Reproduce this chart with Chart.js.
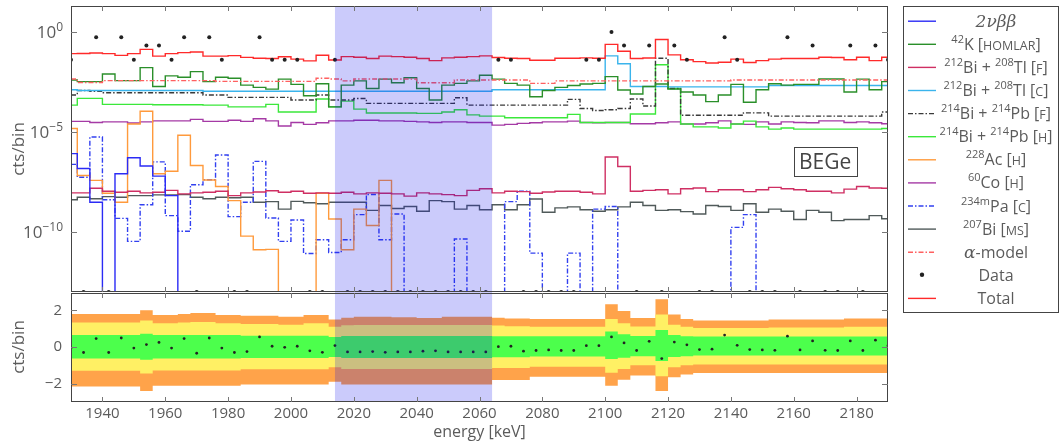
<!DOCTYPE html>
<html>
<head>
<meta charset="utf-8">
<script src="https://cdn.jsdelivr.net/npm/chart.js@4.4.1/dist/chart.umd.min.js"></script>
<style>
  html, body { margin: 0; padding: 0; background: #fff; }
</style>
</head>
<body>
<canvas id="fit" width="1061" height="444"></canvas>
<script>
// bin centres [keV]
const energy = [1930,1934,1938,1942,1946,1950,1954,1958,1962,1966,1970,
  1974,1978,1982,1986,1990,1994,1998,2002,2006,2010,2014,
  2018,2022,2026,2030,2034,2038,2042,2046,2050,2054,2058,
  2062,2066,2070,2074,2078,2082,2086,2090,2094,2098,2102,
  2106,2110,2114,2118,2122,2126,2130,2134,2138,2142,2146,
  2150,2154,2158,2162,2166,2170,2174,2178,2182,2186,2190];

const xTickValues = [1940,1960,1980,2000,2020,2040,2060,2080,2100,2120,2140,2160,2180];
const logTickValues = [1e-10, 1e-5, 1];
const logTickExps = ['−10', '−5', '0'];
const residTickValues = [-2, 0, 2];
const yMin = 1e-13, yMax = 20;
const roiStart = 2014, roiEnd = 2064;

// cts/bin per component (0 = empty bin)
const total = [0.083,0.084,0.09,0.083,0.068,0.083,0.135,0.062,0.083,0.093,0.10,
  0.062,0.062,0.066,0.054,0.049,0.047,0.058,0.044,0.036,0.069,0.04,
  0.059,0.055,0.047,0.062,0.059,0.055,0.047,0.037,0.051,0.055,0.059,
  0.064,0.053,0.049,0.047,0.039,0.039,0.049,0.049,0.051,0.049,0.24,
  0.11,0.047,0.05,0.42,0.072,0.041,0.033,0.028,0.031,0.044,0.030,
  0.037,0.044,0.047,0.047,0.047,0.055,0.053,0.041,0.055,0.037,0.055];

const k42 = [0.004,0.0033,0.0033,0.008,0.0037,0.0037,0.0166,0.0019,0.0064,0.0055,0.0105,
  0.0033,0.0055,0.0049,0.0022,0.0017,0.0014,0.0044,0.0024,0.00065,0.0026,0.00018,
  0.0022,0.0036,0.0015,0.0044,0.0029,0.0052,0.0015,0.0004,0.0022,0.0027,0.0036,
  0.0069,0.0044,0.0027,0.0022,0.00058,0.0012,0.0017,0.0021,0.0025,0.0027,0.0059,
  0.00126,0.00079,0.0019,0.0025,0.0014,0.001,0.00071,0.00033,0.00071,0.0024,0.00031,
  0.0013,0.0026,0.0022,0.0024,0.0024,0.0045,0.0045,0.001,0.0044,0.0013,0.0033];

const tlF = [9.1e-9,9.1e-9,1.55e-8,1.1e-8,9.8e-9,1.1e-8,9.1e-9,9.8e-9,1.2e-8,8.1e-9,9.1e-9,
  9.8e-9,1.1e-8,6.6e-9,9.1e-9,1.0e-8,1.15e-8,9.8e-9,1.1e-8,8.7e-9,9.1e-9,8.7e-9,
  9.8e-9,8.1e-9,9.1e-9,8.7e-9,8.1e-9,6.2e-9,9.1e-9,8.1e-9,7.4e-9,6.6e-9,1.2e-8,
  1.45e-8,9.1e-9,1.1e-8,1.05e-8,8.7e-9,1.0e-8,1.1e-8,1.1e-8,9.8e-9,8.1e-9,5.6e-7,
  1.9e-7,1.1e-8,1.2e-8,1.3e-8,8.1e-9,1.45e-8,1.6e-8,1.05e-8,1.3e-8,1.3e-8,1.05e-8,
  1.3e-8,1.7e-8,1.45e-8,1.3e-8,1.1e-8,1.1e-8,9.1e-9,1.4e-8,1.9e-8,1.6e-8,1.55e-8];

const tlC = [0.0013,0.0012,0.0012,0.0012,0.0012,0.0012,0.0012,0.0012,0.0012,0.0012,0.0012,
  0.0011,0.0011,0.0011,0.0011,0.0011,0.0011,0.0011,0.0011,0.0011,0.0011,0.0011,
  0.0011,0.0011,0.0011,0.0011,0.0011,0.0011,0.0011,0.0011,0.0011,0.0011,0.0011,
  0.0011,0.0013,0.0013,0.0013,0.0013,0.0013,0.0013,0.0013,0.0013,0.0013,0.064,
  0.026,0.0019,0.0019,0.0019,0.0018,0.0018,0.0018,0.0018,0.0018,0.0018,0.0018,
  0.0018,0.0021,0.0021,0.0021,0.0021,0.0021,0.0021,0.0021,0.0021,0.0021,0.0021];

const biF = [7.1e-4,0.0012,0.0011,9.2e-4,9.2e-4,9.2e-4,9.2e-4,9.2e-4,9.2e-4,9.2e-4,9.2e-4,
  7.1e-4,7.1e-4,5.4e-4,5.4e-4,5.4e-4,5.4e-4,5.4e-4,4e-4,4e-4,7.1e-4,4e-4,
  4e-4,4.7e-4,2.7e-4,2.7e-4,2.7e-4,2.7e-4,2.7e-4,2.7e-4,2.7e-4,5.2e-4,2.2e-4,
  2.2e-4,2.2e-4,2.2e-4,2.2e-4,2.2e-4,2.2e-4,2.2e-4,4.3e-4,1.5e-4,1.2e-4,1.3e-4,
  1.5e-4,4.5e-4,2e-4,0.049,0.0015,6.9e-5,6.9e-5,6.9e-5,6.9e-5,6.9e-5,9.1e-5,
  9.1e-5,6.2e-5,6.2e-5,6.2e-5,6.2e-5,6.2e-5,6.2e-5,6.2e-5,6.2e-5,6.2e-5,1e-4];

const biH = [2.2e-4,4.8e-4,4.8e-4,2.4e-4,2.4e-4,2.4e-4,2.4e-4,2.3e-4,2.3e-4,2.3e-4,2.3e-4,
  2.2e-4,2.2e-4,1.8e-4,1.8e-4,1.8e-4,2.4e-4,1.0e-4,1.0e-4,1.0e-4,4.5e-4,1.8e-4,
  3.5e-4,1.4e-4,9e-5,9e-5,9e-5,9e-5,8.5e-5,8.5e-5,1.0e-4,1.3e-4,7.2e-5,
  6.2e-5,6.2e-5,5.2e-5,5.2e-5,5.2e-5,5.2e-5,5.2e-5,7.6e-5,3.0e-5,3.0e-5,3.0e-5,
  3.0e-5,8e-5,8e-5,0.023,0.0015,2.5e-5,1.8e-5,1.8e-5,1.6e-5,2.5e-5,3.5e-5,
  1.8e-5,1.4e-5,1.6e-5,1.4e-5,1.4e-5,1.4e-5,1.4e-5,1.4e-5,1.4e-5,1.4e-5,1.5e-5];

const co60 = [3.4e-5,3.4e-5,3.0e-5,3.2e-5,3.2e-5,2.8e-5,3.2e-5,3.6e-5,3.6e-5,3.6e-5,4.3e-5,
  3.4e-5,3.4e-5,3.9e-5,3.4e-5,4.6e-5,3.6e-5,2.0e-5,3.0e-5,2.4e-5,2.9e-5,3.6e-5,
  3.6e-5,3.9e-5,3.9e-5,3.6e-5,3.6e-5,3.4e-5,3.2e-5,3.0e-5,3.2e-5,3.2e-5,3.0e-5,
  3.0e-5,2.2e-5,2.4e-5,2.7e-5,2.9e-5,3.2e-5,3.2e-5,3.5e-5,3.0e-5,2.9e-5,3.0e-5,
  3.0e-5,2.6e-5,2.6e-5,2.9e-5,3.2e-5,2.5e-5,2.5e-5,2.9e-5,3.6e-5,2.5e-5,2.4e-5,
  3.2e-5,2.5e-5,3.2e-5,3.0e-5,2.9e-5,3.6e-5,3.6e-5,3.0e-5,3.2e-5,2.9e-5,2.6e-5];

const bi207 = [4.1e-9,5.5e-9,4.6e-9,5.9e-9,5.5e-9,6.6e-9,6.6e-9,7.2e-9,7.2e-9,7.4e-9,5.5e-9,
  4.6e-9,5.5e-9,5.2e-9,5.5e-9,3.1e-9,3.3e-9,1.4e-9,3.4e-9,2.9e-9,2.6e-9,3.1e-9,
  3.1e-9,3.1e-9,1.2e-9,2.1e-9,1.5e-9,1.9e-9,1.1e-9,3.7e-9,3.3e-9,1.4e-9,2.1e-9,
  1.3e-9,2.3e-9,1.3e-9,2.3e-9,4.5e-9,9.8e-10,1.6e-9,1.8e-9,1.3e-9,1.1e-9,1.3e-9,
  1.8e-9,3.1e-9,2.1e-9,1.2e-9,1.3e-9,1.05e-9,7.9e-10,2.1e-9,1.9e-9,1.2e-9,2.6e-9,
  9.8e-10,1.4e-9,1.1e-9,4.2e-10,1.2e-9,9.8e-10,3.7e-10,4.2e-10,4.2e-10,6.6e-10,4.6e-10];

const bb2nu = [8.3e-7,1.5e-7,3.1e-9,0,8.2e-8,5.2e-7,2.0e-7,6.2e-8,6.6e-9,0,0,
  0,0,0,0,0,0,0,0,0,0,0,
  0,0,0,0,0,0,0,0,0,0,0,
  0,0,0,0,0,0,0,0,0,0,0,
  0,0,0,0,0,0,0,0,0,0,0,
  0,0,0,0,0,0,0,0,0,0,0];

const ac228 = [1.5e-5,6.7e-8,3.8e-8,8.7e-9,3.1e-9,2.5e-5,1.1e-4,8.2e-8,1.1e-7,6.9e-6,2.1e-7,
  4.0e-8,1.9e-8,3.7e-9,6.2e-11,1.3e-11,1.35e-11,0,0,0,8.7e-9,4.5e-10,
  1.3e-11,1.4e-9,2.1e-10,3.8e-8,0,0,0,0,0,0,0,
  0,0,0,0,0,0,0,0,0,0,0,
  0,0,0,0,0,0,0,0,0,0,0,
  0,0,0,0,0,0,0,0,0,0,0];

const pa234 = [2.4e-7,5.5e-8,5.6e-6,4.1e-9,4.8e-10,3.4e-11,2.3e-9,3.2e-7,6.6e-10,1.1e-10,2.3e-8,
  4.1e-8,7.1e-7,5.9e-10,3.1e-9,3.4e-7,5.0e-10,3.4e-11,4.0e-10,8.4e-12,4.1e-11,9.4e-12,
  4.1e-11,7.4e-10,7.5e-9,4.1e-11,8.0e-10,0,0,0,0,4.5e-11,0,
  0,0,3.3e-9,1.1e-8,8.8e-12,0,0,8.8e-12,0,1.4e-9,1.9e-9,
  0,0,0,0,0,0,0,0,0,1.7e-10,7.4e-10,
  0,0,0,0,0,0,0,0,0,0,0];

const alpha = [0.0045,0.003,0.003,0.0037,0.0037,0.0037,0.0037,0.0037,0.0037,0.0037,0.0037,
  0.0037,0.0034,0.0034,0.0034,0.0034,0.0034,0.0034,0.0034,0.0034,0.0049,0.0045,
  0.0036,0.0045,0.0045,0.0045,0.0045,0.0045,0.0029,0.0029,0.0029,0.004,0.004,
  0.004,0.004,0.004,0.004,0.0027,0.0027,0.0036,0.0036,0.0036,0.0036,0.0036,
  0.0036,0.0036,0.0036,0.0036,0.0036,0.0036,0.0036,0.0036,0.0036,0.004,0.004,
  0.004,0.004,0.004,0.004,0.004,0.004,0.004,0.004,0.004,0.004,0.004];

const counts = [0.041,0,0.55,0,0.55,0.041,0.21,0.21,0.041,0.55,0,
  0.55,0.041,0,0,0.55,0.041,0.041,0.041,0,0,0.041,
  0,0,0,0,0,0,0,0,0,0,0,
  0,0.041,0.041,0,0,0,0,0,0.041,0.041,1.0,
  0.21,0,0.21,0,0.21,0.041,0,0,0.55,0.041,0,
  0,0,0.55,0,0.21,0,0,0.21,0,0.21,0.041];

// lower panel
const residual = [-0.06,-0.30,0.46,-0.30,0.49,-0.06,0.13,0.25,-0.06,0.46,-0.34,
  0.49,-0.06,-0.30,-0.25,0.55,0.04,-0.02,0.04,-0.21,-0.29,0.08,
  -0.27,-0.27,-0.25,-0.29,-0.27,-0.27,-0.23,-0.21,-0.27,-0.27,-0.27,
  -0.27,0.02,0.04,-0.23,-0.19,-0.16,-0.19,-0.19,0.07,0.07,0.55,
  0.22,-0.19,0.31,-0.63,0.27,0.12,-0.14,-0.12,0.65,0.09,-0.14,
  -0.16,-0.18,0.59,-0.16,0.33,-0.18,-0.19,0.33,-0.19,0.37,0.07];

const band3Hi = [1.8,1.8,1.8,1.8,1.8,1.8,2.0,1.75,1.75,1.8,1.85,
  1.85,1.75,1.75,1.7,1.7,1.7,1.65,1.65,1.75,1.75,1.5,
  1.6,1.65,1.65,1.65,1.62,1.62,1.58,1.58,1.65,1.65,1.65,
  1.65,1.6,1.55,1.55,1.53,1.53,1.53,1.53,1.53,1.53,2.33,
  1.96,1.58,1.58,2.61,1.77,1.53,1.45,1.45,1.45,1.45,1.45,
  1.45,1.5,1.5,1.5,1.5,1.5,1.5,1.55,1.55,1.55,1.55];
const band2Hi = [1.33,1.33,1.33,1.33,1.33,1.33,1.45,1.3,1.3,1.33,1.36,
  1.36,1.3,1.3,1.26,1.26,1.26,1.22,1.22,1.3,1.3,1.1,
  1.18,1.2,1.2,1.2,1.2,1.2,1.2,1.2,1.2,1.2,1.2,
  1.2,1.17,1.13,1.13,1.1,1.1,1.1,1.1,1.1,1.1,1.53,
  1.3,1.12,1.12,1.77,1.22,1.1,1.04,1.04,1.04,1.04,1.04,
  1.04,1.07,1.07,1.07,1.07,1.07,1.07,1.1,1.1,1.1,1.1];
const band1Hi = [0.65,0.65,0.65,0.65,0.65,0.65,0.72,0.65,0.65,0.65,0.65,
  0.65,0.65,0.65,0.62,0.62,0.62,0.62,0.62,0.62,0.62,0.55,
  0.6,0.6,0.6,0.6,0.6,0.6,0.6,0.6,0.6,0.6,0.6,
  0.6,0.58,0.58,0.58,0.58,0.58,0.58,0.58,0.58,0.58,0.84,
  0.7,0.6,0.6,0.93,0.65,0.58,0.57,0.57,0.57,0.57,0.57,
  0.57,0.57,0.57,0.57,0.57,0.57,0.57,0.57,0.57,0.57,0.57];
const band1Lo = [-0.63,-0.63,-0.63,-0.63,-0.63,-0.63,-0.7,-0.63,-0.63,-0.63,-0.63,
  -0.63,-0.63,-0.63,-0.6,-0.6,-0.6,-0.6,-0.6,-0.6,-0.6,-0.55,
  -0.6,-0.6,-0.6,-0.6,-0.6,-0.6,-0.6,-0.6,-0.6,-0.6,-0.6,
  -0.6,-0.56,-0.56,-0.56,-0.52,-0.52,-0.52,-0.52,-0.52,-0.52,-0.66,
  -0.58,-0.5,-0.5,-0.76,-0.55,-0.5,-0.47,-0.47,-0.47,-0.47,-0.47,
  -0.47,-0.47,-0.47,-0.47,-0.47,-0.47,-0.47,-0.47,-0.47,-0.47,-0.47];
const band2Lo = [-1.29,-1.29,-1.29,-1.29,-1.29,-1.29,-1.45,-1.28,-1.28,-1.28,-1.28,
  -1.28,-1.28,-1.28,-1.22,-1.22,-1.22,-1.22,-1.22,-1.22,-1.22,-1.1,
  -1.2,-1.2,-1.2,-1.2,-1.2,-1.2,-1.2,-1.2,-1.2,-1.2,-1.2,
  -1.2,-1.14,-1.14,-1.14,-1.08,-1.08,-1.08,-1.08,-1.08,-1.08,-1.41,
  -1.2,-1.0,-1.0,-1.6,-1.1,-1.0,-0.96,-0.96,-0.96,-0.96,-0.96,
  -0.96,-0.96,-0.96,-0.96,-0.96,-0.96,-0.96,-0.96,-0.96,-0.96,-0.96];
const band3Lo = [-2.15,-2.15,-2.15,-2.15,-2.15,-2.15,-2.4,-2.12,-2.12,-2.12,-2.12,
  -2.12,-2.12,-2.12,-2.05,-2.05,-2.05,-2.05,-2.05,-2.05,-2.05,-1.9,
  -2.05,-2.05,-2.05,-2.05,-2.05,-2.05,-2.05,-2.05,-2.05,-2.05,-2.05,
  -2.05,-1.8,-1.8,-1.8,-1.62,-1.62,-1.62,-1.62,-1.62,-1.62,-2.12,
  -1.79,-1.55,-1.55,-2.4,-1.65,-1.5,-1.42,-1.42,-1.42,-1.42,-1.42,
  -1.42,-1.42,-1.42,-1.42,-1.42,-1.42,-1.42,-1.42,-1.42,-1.42,-1.42];

const FONT = '"Open Sans", "DejaVu Sans", sans-serif';
const GREY = '#5b5b5b';
const DASHDOT = [5, 2, 1.5, 2];

const styles = {
  bb:    { color: '#2b2bf5', dash: [] },
  k42:   { color: '#2a8f2a', dash: [] },
  tlF:   { color: '#cf2f63', dash: [] },
  tlC:   { color: '#3ab4ec', dash: [] },
  biF:   { color: '#3a3a3a', dash: DASHDOT },
  biH:   { color: '#3be83b', dash: [] },
  ac:    { color: '#ff9a3c', dash: [] },
  co:    { color: '#a53aa5', dash: [] },
  pa:    { color: '#3240f0', dash: DASHDOT },
  bi207: { color: '#505a5a', dash: [] },
  alpha: { color: '#ff6060', dash: DASHDOT },
  total: { color: '#ff2a2a', dash: [] }
};

const floorLog = v => (v > 0 ? v : yMin);

function histo(label, values, key, order) {
  return {
    label: label,
    data: energy.map((e, i) => ({ x: e, y: floorLog(values[i]) })),
    yAxisID: 'y',
    borderColor: styles[key].color,
    borderDash: styles[key].dash,
    borderWidth: 1.4,
    stepped: 'middle',
    pointRadius: 0,
    fill: false,
    order: order
  };
}

function band(values, color, fill, order) {
  return {
    data: energy.map((e, i) => ({ x: e, y: values[i] })),
    yAxisID: 'yres',
    borderColor: 'rgba(0,0,0,0)',
    borderWidth: 0,
    backgroundColor: color,
    stepped: 'middle',
    pointRadius: 0,
    fill: fill,
    order: order
  };
}

const datasets = [
  band(band3Hi, '#ffa34a', '+1', 30),
  band(band3Lo, '#ffa34a', false, 30),
  band(band2Hi, '#fff064', '+1', 20),
  band(band2Lo, '#fff064', false, 20),
  band(band1Hi, '#4cff4c', '+1', 10),
  band(band1Lo, '#4cff4c', false, 10),
  {
    label: 'residual',
    data: energy.map((e, i) => ({ x: e, y: residual[i] })),
    yAxisID: 'yres', showLine: false, pointRadius: 1.4,
    pointBackgroundColor: '#222', pointBorderWidth: 0, order: 0
  },
  histo('2νββ', bb2nu, 'bb', 5),
  histo('42K [HOMLAR]', k42, 'k42', 5),
  histo('212Bi + 208Tl [F]', tlF, 'tlF', 5),
  histo('212Bi + 208Tl [C]', tlC, 'tlC', 5),
  histo('214Bi + 214Pb [F]', biF, 'biF', 5),
  histo('214Bi + 214Pb [H]', biH, 'biH', 5),
  histo('228Ac [H]', ac228, 'ac', 5),
  histo('60Co [H]', co60, 'co', 5),
  histo('234mPa [C]', pa234, 'pa', 5),
  histo('207Bi [MS]', bi207, 'bi207', 5),
  histo('α-model', alpha, 'alpha', 4),
  histo('Total', total, 'total', 2),
  {
    label: 'Data',
    data: energy.map((e, i) => ({ x: e, y: floorLog(counts[i]) })),
    yAxisID: 'y', showLine: false, pointRadius: 2.0,
    pointBackgroundColor: '#222', pointBorderWidth: 0, order: 0
  }
];

// legend rows: text parts (sup = superscript, sc = small caps, it = italic)
const legendRows = [
  { parts: [{ t: '2νββ', f: 'it' }], key: 'bb' },
  { parts: [{ t: '42', f: 'sup' }, { t: 'K ' }, { t: '[HOMLAR]', f: 'sc' }], key: 'k42' },
  { parts: [{ t: '212', f: 'sup' }, { t: 'Bi + ' }, { t: '208', f: 'sup' }, { t: 'Tl ' }, { t: '[F]', f: 'sc' }], key: 'tlF' },
  { parts: [{ t: '212', f: 'sup' }, { t: 'Bi + ' }, { t: '208', f: 'sup' }, { t: 'Tl ' }, { t: '[C]', f: 'sc' }], key: 'tlC' },
  { parts: [{ t: '214', f: 'sup' }, { t: 'Bi + ' }, { t: '214', f: 'sup' }, { t: 'Pb ' }, { t: '[F]', f: 'sc' }], key: 'biF' },
  { parts: [{ t: '214', f: 'sup' }, { t: 'Bi + ' }, { t: '214', f: 'sup' }, { t: 'Pb ' }, { t: '[H]', f: 'sc' }], key: 'biH' },
  { parts: [{ t: '228', f: 'sup' }, { t: 'Ac ' }, { t: '[H]', f: 'sc' }], key: 'ac' },
  { parts: [{ t: '60', f: 'sup' }, { t: 'Co ' }, { t: '[H]', f: 'sc' }], key: 'co' },
  { parts: [{ t: '234m', f: 'sup' }, { t: 'Pa ' }, { t: '[C]', f: 'sc' }], key: 'pa' },
  { parts: [{ t: '207', f: 'sup' }, { t: 'Bi ' }, { t: '[MS]', f: 'sc' }], key: 'bi207' },
  { parts: [{ t: 'α', f: 'it' }, { t: '-model' }], key: 'alpha' },
  { parts: [{ t: 'Data' }], key: 'dot' },
  { parts: [{ t: 'Total' }], key: 'total' }
];

function partFont(f) {
  if (f === 'sup') return '11px ' + FONT;
  if (f === 'sc') return '12.5px ' + FONT;
  if (f === 'it') return 'italic 17px "DejaVu Serif", serif';
  return '16px ' + FONT;
}

function splitParts(parts) {
  // small-caps tags keep normal-size brackets
  const out = [];
  parts.forEach(p => {
    if (p.f === 'sc') {
      out.push({ t: '[' });
      out.push({ t: p.t.slice(1, -1), f: 'sc' });
      out.push({ t: ']' });
    } else out.push(p);
  });
  return out;
}

function drawRich(ctx, parts, cx, cy) {
  const segs = splitParts(parts);
  let w = 0;
  segs.forEach(s => { ctx.font = partFont(s.f); s.w = ctx.measureText(s.t).width; w += s.w; });
  let x = cx - w / 2;
  ctx.textBaseline = 'alphabetic';
  ctx.textAlign = 'left';
  segs.forEach(s => {
    ctx.font = partFont(s.f);
    const dy = s.f === 'sup' ? -7 : 0;
    ctx.fillText(s.t, x, cy + 6 + dy);
    x += s.w;
  });
}

// stacked panels: no label overhang padding
function fixWidth(s) {
  s.width = 71;
  s.paddingTop = 0;
  s.paddingBottom = 0;
}

const decor = {
  id: 'decor',
  afterDatasetsDraw(chart) {
    const { ctx, chartArea, scales } = chart;
    const x0 = scales.x.getPixelForValue(roiStart);
    const x1 = scales.x.getPixelForValue(roiEnd);
    ctx.save();
    ctx.fillStyle = 'rgba(10,10,235,0.21)';
    ctx.fillRect(x0, chartArea.top, x1 - x0, chartArea.bottom - chartArea.top);
    ctx.restore();
  },
  afterDraw(chart) {
    const { ctx, scales } = chart;
    const x = scales.x, y = scales.y, r = scales.yres;
    ctx.save();

    // panel frames
    ctx.strokeStyle = '#444';
    ctx.lineWidth = 1;
    ctx.strokeRect(x.left + 0.5, y.top + 0.5, x.right - x.left - 1, y.bottom - y.top - 1);
    ctx.strokeRect(x.left + 0.5, r.top + 1.5, x.right - x.left - 1, r.bottom - r.top - 2);

    // inward tick marks
    ctx.strokeStyle = '#777';
    ctx.beginPath();
    xTickValues.forEach(v => {
      const px = Math.round(x.getPixelForValue(v)) + 0.5;
      [[y.top, 5], [y.bottom, -5], [r.top + 1, 5], [r.bottom, -5]].forEach(([py, d]) => {
        ctx.moveTo(px, py); ctx.lineTo(px, py + d);
      });
    });
    [[y, logTickValues], [r, residTickValues]].forEach(([s, vals]) => {
      vals.forEach(v => {
        const py = Math.round(s.getPixelForValue(v)) + 0.5;
        ctx.moveTo(x.left, py); ctx.lineTo(x.left + 6, py);
        ctx.moveTo(x.right, py); ctx.lineTo(x.right - 6, py);
      });
    });
    ctx.stroke();

    // log tick labels: 10 with raised exponent
    ctx.fillStyle = GREY;
    ctx.textBaseline = 'alphabetic';
    logTickValues.forEach((v, i) => {
      const py = y.getPixelForValue(v);
      ctx.font = '12px ' + FONT;
      const ew = ctx.measureText(logTickExps[i]).width;
      ctx.textAlign = 'right';
      ctx.fillText(logTickExps[i], 63, py - 1);
      ctx.font = '17px ' + FONT;
      ctx.fillText('10', 63 - ew, py + 6);
    });

    // detector label
    const bx0 = x.getPixelForValue(2160), bx1 = x.getPixelForValue(2180);
    const by0 = y.getPixelForValue(1.7e-6), by1 = y.getPixelForValue(6.3e-8);
    ctx.strokeStyle = '#444';
    ctx.fillStyle = '#fff';
    ctx.fillRect(bx0, by0, bx1 - bx0, by1 - by0);
    ctx.strokeRect(Math.round(bx0) + 0.5, Math.round(by0) + 0.5, Math.round(bx1 - bx0), Math.round(by1 - by0));
    ctx.fillStyle = '#444';
    ctx.font = '21px ' + FONT;
    ctx.textAlign = 'center';
    ctx.textBaseline = 'middle';
    ctx.fillText('BEGe', (bx0 + bx1) / 2, (by0 + by1) / 2 + 1);

    // legend
    ctx.strokeStyle = '#444';
    ctx.strokeRect(903.5, 6.5, 155, 306);
    legendRows.forEach((row, i) => {
      const cy = 20.7 + 23.1 * i;
      if (row.key === 'dot') {
        ctx.fillStyle = '#222';
        ctx.beginPath(); ctx.arc(922, cy, 2.2, 0, Math.PI * 2); ctx.fill();
      } else {
        const st = styles[row.key];
        ctx.strokeStyle = st.color;
        ctx.lineWidth = 1.4;
        ctx.setLineDash(st.dash);
        ctx.beginPath(); ctx.moveTo(908, cy + 0.5); ctx.lineTo(936, cy + 0.5); ctx.stroke();
        ctx.setLineDash([]);
      }
      ctx.fillStyle = GREY;
      drawRich(ctx, row.parts, 996, cy);
    });
    ctx.restore();
  }
};

new Chart(document.getElementById('fit'), {
  type: 'line',
  data: { datasets: datasets },
  options: {
    responsive: false,
    animation: false,
    layout: { padding: { top: 6, right: 173, left: 0, bottom: 0 } },
    plugins: { legend: { display: false }, tooltip: { enabled: false } },
    scales: {
      x: {
        type: 'linear', min: 1930, max: 2190,
        grid: { display: false, drawTicks: false }, border: { display: false },
        afterBuildTicks: s => { s.ticks = xTickValues.map(v => ({ value: v })); },
        ticks: { color: GREY, font: { family: FONT, size: 15 }, padding: 3, maxRotation: 0, autoSkip: false,
                 callback: v => String(v) },
        title: { display: true, text: 'energy [keV]', color: GREY, font: { family: FONT, size: 16 }, padding: { top: 0, bottom: 2 } },
        afterFit: s => { s.height = 42; s.paddingLeft = 0; s.paddingRight = 0; }
      },
      yres: {
        type: 'linear', position: 'left', stack: 'panels', stackWeight: 110,
        min: -3, max: 3,
        grid: { display: false, drawTicks: false }, border: { display: false },
        afterBuildTicks: s => { s.ticks = residTickValues.map(v => ({ value: v })); },
        ticks: { color: GREY, font: { family: FONT, size: 15 }, padding: 9, autoSkip: false,
                 callback: v => (v < 0 ? '−' + Math.abs(v) : String(v)) },
        title: { display: true, text: 'cts/bin', color: GREY, font: { family: FONT, size: 17 }, padding: { top: 9 } },
        afterFit: fixWidth
      },
      y: {
        type: 'logarithmic', position: 'left', stack: 'panels', stackWeight: 286,
        min: yMin, max: yMax,
        grid: { display: false, drawTicks: false }, border: { display: false },
        afterBuildTicks: s => { s.ticks = logTickValues.map(v => ({ value: v })); },
        ticks: { display: false },
        title: { display: true, text: 'cts/bin', color: GREY, font: { family: FONT, size: 17 }, padding: { top: 9 } },
        afterFit: fixWidth
      }
    }
  },
  plugins: [decor]
});
</script>
</body>
</html>
